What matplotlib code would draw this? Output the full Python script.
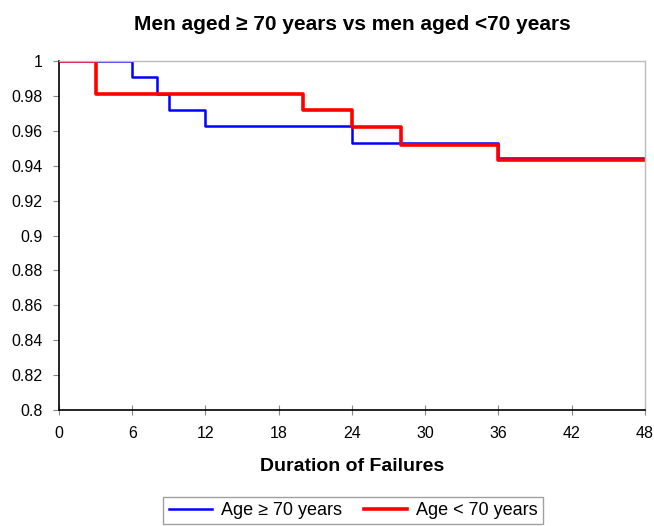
import matplotlib.pyplot as plt

plt.rcParams['font.family'] = ['Liberation Sans', 'DejaVu Sans']

# survival steps (time in months, survival proportion)
t_old = [0, 6, 8, 9, 12, 24, 36, 48]
s_old = [1.0, 0.991, 0.981, 0.972, 0.963, 0.953, 0.9445, 0.9445]

t_young = [0, 3, 20, 24, 28, 36, 48]
s_young = [1.0, 0.981, 0.972, 0.962, 0.952, 0.943, 0.943]

x_ticks = [0, 6, 12, 18, 24, 30, 36, 42, 48]
y_ticks = [0.8, 0.82, 0.84, 0.86, 0.88, 0.9, 0.92, 0.94, 0.96, 0.98, 1.0]

fig = plt.figure(figsize=(6.54, 5.26), dpi=100)
ax = fig.add_axes([0.0902, 0.2205, 0.896, 0.6635])

l1, = ax.plot(t_old, s_old, drawstyle='steps-post', color='#0000ff', lw=1.8,
              label='Age \u2265 70 years')
l2, = ax.plot(t_young, s_young, drawstyle='steps-post', color='#ff0000', lw=2.6,
              label='Age < 70 years')

ax.set_xlim(0, 48)
ax.set_ylim(0.8, 1.0)
ax.set_xticks(x_ticks)
ax.set_yticks(y_ticks)
ax.set_yticklabels(['%g' % v for v in y_ticks])
ax.tick_params(axis='both', labelsize=11.5, color='#888888', length=4)
ax.tick_params(axis='x', direction='inout', length=7, pad=8)
ax.tick_params(axis='y', direction='out', pad=8)

for s in ['left', 'bottom']:
    ax.spines[s].set_color('black')
    ax.spines[s].set_linewidth(1.2)
for s in ['top', 'right']:
    ax.spines[s].set_color('#bbbbbb')
    ax.spines[s].set_linewidth(1.0)

ax.set_title('Men aged \u2265 70 years vs men aged <70 years',
             fontsize=15, fontweight='bold', pad=22)
ax.set_xlabel('Duration of Failures', fontsize=14, fontweight='bold', labelpad=12)

leg = fig.legend(handles=[l1, l2], loc='lower center', bbox_to_anchor=(0.54, -0.014),
                 ncol=2, fontsize=13, frameon=True, fancybox=False,
                 handlelength=2.4, columnspacing=1.2, handletextpad=0.5,
                 borderpad=0.3)
leg.get_frame().set_edgecolor('#888888')
leg.get_frame().set_linewidth(1.0)

fig.savefig('out.png', dpi=100)
